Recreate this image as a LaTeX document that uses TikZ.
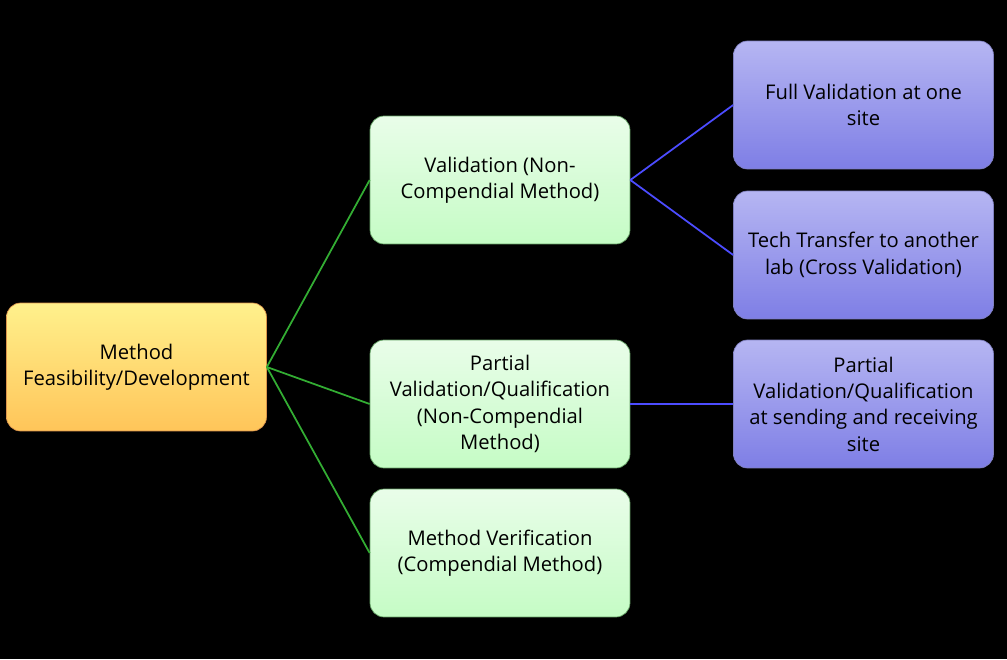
\documentclass[tikz,border=0pt]{standalone}
\usepackage{fontspec}
\setmainfont{Open Sans}
\usetikzlibrary{positioning}
\tikzset{
  box/.style={rounded corners=8pt, minimum width=5.2cm, minimum height=2.56cm,
    align=center, font=\fontsize{11.5}{15}\selectfont, inner sep=2pt},
  orangebox/.style={box, draw=orange!80!black!70, top color=orange!25!yellow!45, bottom color=orange!70!yellow!65},
  greenbox/.style={box, draw=green!40!black!60, top color=green!40!black!5!white!75!green!30, bottom color=green!45!black!10!white!55!green!45},
  bluebox/.style={box, draw=blue!50!black!50, top color=blue!25!white!95!black, bottom color=blue!45!white!90!black},
  glink/.style={draw=green!60!black!80, line width=1pt},
  blink/.style={draw=blue!70!white, line width=1pt}
}
\begin{document}
\begin{tikzpicture}[x=0.02cm,y=-0.02cm]
\fill[black] (0,0) rectangle (1007,659);
\node[orangebox] (method) at (136.5,367) {Method\\Feasibility/Development};
\node[greenbox] (valid) at (500,180) {Validation (Non-\\Compendial Method)};
\node[greenbox] (partial) at (500,404) {Partial\\Validation/Qualification\\(Non-Compendial\\Method)};
\node[greenbox] (verif) at (500,553) {Method Verification\\(Compendial Method)};
\node[bluebox] (full) at (863.5,105) {Full Validation at one\\site};
\node[bluebox] (tech) at (863.5,255) {Tech Transfer to another\\lab (Cross Validation)};
\node[bluebox] (site) at (863.5,404) {Partial\\Validation/Qualification\\at sending and receiving\\site};
% connectors
\foreach \t in {valid,partial,verif}
  \draw[glink] (method.east) -- (\t.west);
\foreach \t in {full,tech}
  \draw[blink] (valid.east) -- (\t.west);
\draw[blink] (partial.east) -- (site.west);
\end{tikzpicture}
\end{document}
